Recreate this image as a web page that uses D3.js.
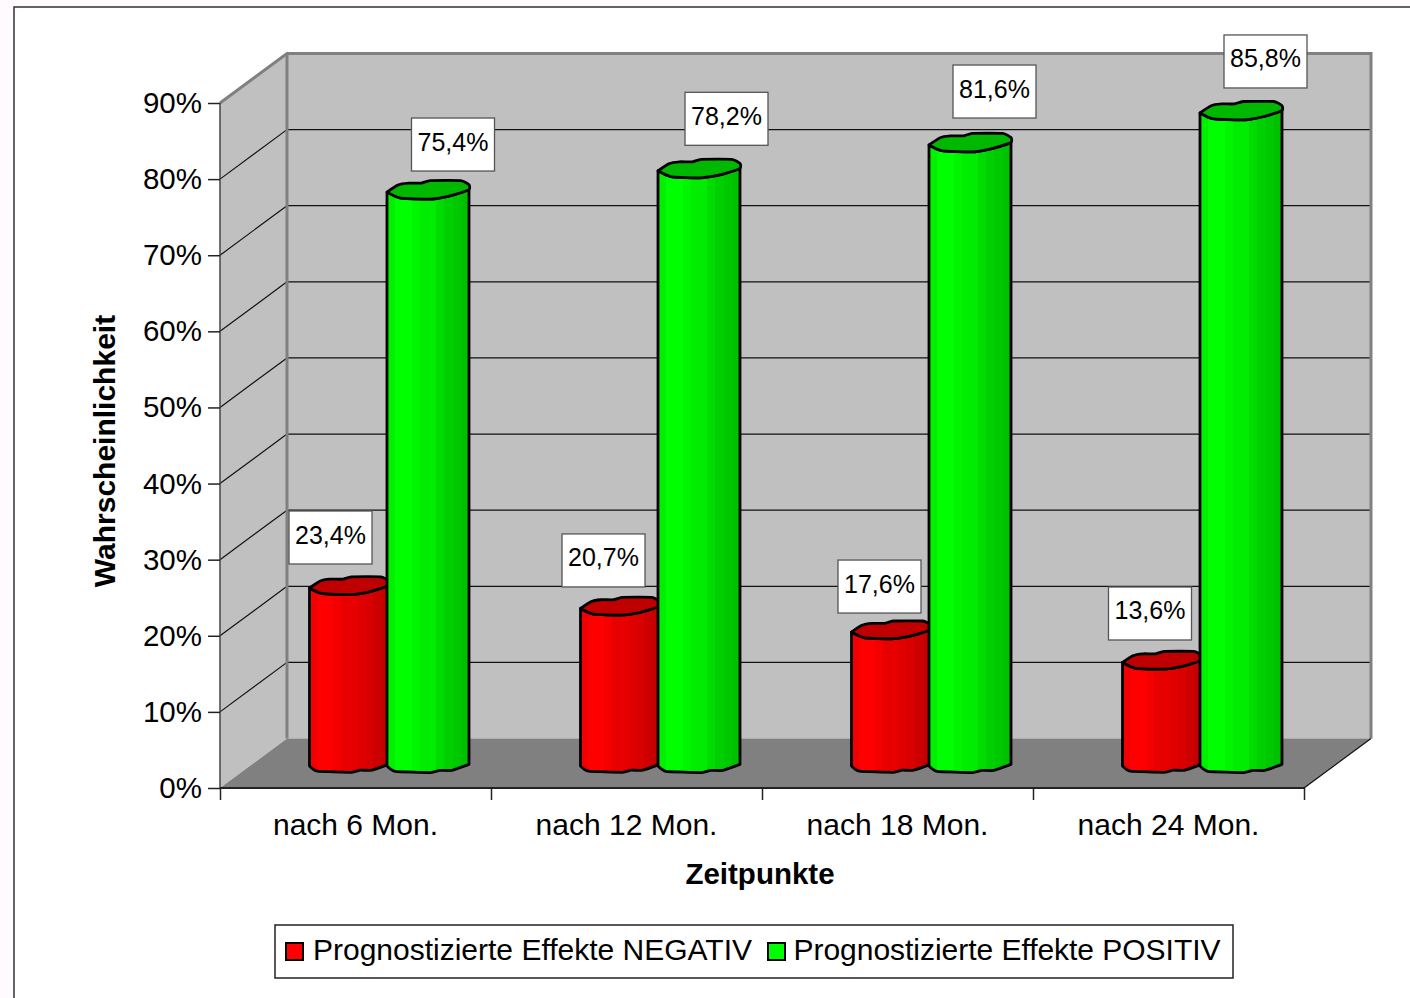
<!DOCTYPE html>
<html>
<head>
<meta charset="utf-8">
<script src="https://cdn.jsdelivr.net/npm/d3@7"></script>
<style>
  html, body { margin: 0; padding: 0; background: #fefafe; overflow: hidden; }
  text { font-family: "Liberation Sans", Arial, sans-serif; fill: #000; }
  .axis path { display: none; }
  .axis line { stroke: #222; stroke-width: 1.5; }
</style>
</head>
<body>
<div id="chart"></div>
<script>
// Data
var categories = ['nach 6 Mon.', 'nach 12 Mon.', 'nach 18 Mon.', 'nach 24 Mon.']
var negativ = [23.4, 20.7, 17.6, 13.6]
var positiv = [75.4, 78.2, 81.6, 85.8]
var yTicks = [0, 10, 20, 30, 40, 50, 60, 70, 80, 90]
var seriesNames = ['Prognostizierte Effekte NEGATIV', 'Prognostizierte Effekte POSITIV']

// the wobbly outline of the cylinders, as fractions of the bar width
var capUpper = [[0, 0], [.13, -.085], [.26, -.11], [.42, -.11], [.53, -.14], [.9, -.14], [1, -.09]]
var capLower = [[1, -.03], [.79, .04], [.62, .075], [.51, .085], [.154, .07], [0, 0]]
var baseEdge = [[0, 0], [.1, .066], [.53, .08], [.64, .053], [.79, .053], [1, -.02]]

// the labels sit a little unevenly in the original
var negNudge = [[-3.5, -2.4], [-1.5, 0], [3.5, 2.5], [3, -1]]
var posNudge = [[-.5, 4.4], [2, 0], [-1, -1.4], [-1, .5]]

var depth = {x: 67, y: -49.5}
var svg = d3.select('#chart').append('svg').attr('width', 1410).attr('height', 998)

var x = d3.scaleBand().domain(categories).range([220, 1304])
var xEdges = d3.scaleLinear().domain([0, 4]).range([220, 1304])
var y = d3.scaleLinear().domain([0, 90]).range([788, 103])

// chart area frame, runs off the page on the right and at the bottom
svg.append('rect').attr('x', 14).attr('y', 7).attr('width', 1500).attr('height', 1100)
  .attr('fill', '#fff').attr('stroke', '#333').attr('stroke-width', 1.5)

// gradients
var defs = svg.append('defs')
function gradient(id, shades){
  var g = defs.append('linearGradient').attr('id', id)
  shades.forEach(function(s, i){
    g.append('stop').attr('offset', i / shades.length).attr('stop-color', s)
    g.append('stop').attr('offset', (i + 1) / shades.length).attr('stop-color', s)
  })
}
gradient('red', ['#f00000', '#ff0000', '#ff0000', '#f40000', '#e80000', '#e80000', '#e00000', '#d80000', '#cc0000', '#c40000'])
gradient('green', ['#00f000', '#00ff00', '#00ff00', '#00f600', '#00ec00', '#00ec00', '#00dc00', '#00d000', '#00c800', '#00c000'])

// walls
var x0 = x.range()[0], x1 = x.range()[1], y0 = y(0), yTop = y(90)
svg.append('polygon')
  .attr('points', [[x0, y0], [x0 + depth.x, y0 + depth.y], [x0 + depth.x, yTop + depth.y], [x0, yTop]].join(' '))
  .attr('fill', '#c0c0c0')
svg.append('rect')
  .attr('x', x0 + depth.x).attr('y', yTop + depth.y)
  .attr('width', x1 - x0).attr('height', y0 - yTop)
  .attr('fill', '#c0c0c0')
svg.append('polygon')
  .attr('points', [[x0, y0], [x1, y0], [x1 + depth.x, y0 + depth.y], [x0 + depth.x, y0 + depth.y]].join(' '))
  .attr('fill', '#808080')

// gridlines
var grid = yTicks.filter(function(d){ return d > 0 && d < 90 })
svg.selectAll('line.back').data(grid).enter().append('line')
  .attr('x1', x0 + depth.x).attr('x2', x1 + depth.x)
  .attr('y1', function(d){ return y(d) + depth.y }).attr('y2', function(d){ return y(d) + depth.y })
  .attr('stroke', '#111').attr('stroke-width', 1.2)
svg.selectAll('line.side').data(grid).enter().append('line')
  .attr('x1', x0).attr('x2', x0 + depth.x)
  .attr('y1', function(d){ return y(d) }).attr('y2', function(d){ return y(d) + depth.y })
  .attr('stroke', '#111').attr('stroke-width', 1.2)

// wall borders
svg.append('path')
  .attr('d', 'M' + [x0, yTop] + 'L' + [x0 + depth.x, yTop + depth.y] + 'L' + [x1 + depth.x, yTop + depth.y] + 'L' + [x1 + depth.x, y0 + depth.y])
  .attr('fill', 'none').attr('stroke', '#808080').attr('stroke-width', 3)
svg.append('line')
  .attr('x1', x0 + depth.x).attr('x2', x0 + depth.x).attr('y1', yTop + depth.y).attr('y2', y0 + depth.y)
  .attr('stroke', '#808080').attr('stroke-width', 3)
svg.append('line')
  .attr('x1', x0).attr('x2', x0).attr('y1', yTop).attr('y2', y0)
  .attr('stroke', '#444').attr('stroke-width', 1.5)
svg.append('line')
  .attr('x1', x1).attr('x2', x1 + depth.x).attr('y1', y0).attr('y2', y0 + depth.y)
  .attr('stroke', '#111').attr('stroke-width', 1.2)
svg.append('line')
  .attr('x1', x0).attr('x2', x1).attr('y1', y0).attr('y2', y0)
  .attr('stroke', '#222').attr('stroke-width', 2)

// axes
var yAxis = d3.axisLeft(y).tickValues(yTicks).tickSize(12).tickPadding(6).tickFormat(function(d){ return d + '%' })
var gy = svg.append('g').attr('class', 'axis').attr('transform', 'translate(' + x0 + ',0)').call(yAxis)
gy.selectAll('text').attr('font-size', 29.5).attr('fill', '#000')

var xTicks = d3.axisBottom(xEdges).ticks(4).tickSize(12).tickFormat('')
svg.append('g').attr('class', 'axis').attr('transform', 'translate(0,' + y0 + ')').call(xTicks)

var xLabels = d3.axisBottom(x).tickSize(0).tickPadding(26)
var gx = svg.append('g').attr('class', 'axis').attr('transform', 'translate(0,' + y0 + ')').call(xLabels)
gx.selectAll('text').attr('font-size', 30).attr('fill', '#000')

svg.append('text').text('Zeitpunkte')
  .attr('x', 760).attr('y', 884).attr('text-anchor', 'middle')
  .attr('font-size', 29.5).attr('font-weight', 'bold')
svg.append('text').text('Wahrscheinlichkeit')
  .attr('transform', 'translate(115,451) rotate(-90)').attr('text-anchor', 'middle')
  .attr('font-size', 30).attr('font-weight', 'bold')

// bars
var outline = d3.line().curve(d3.curveCardinal.tension(.55))
var barLift = 22

function drawBar(cat, value, left, width, gradId, capColor){
  var bx = x(cat) + left
  var rim = y(value) - barLift
  var base = y(0) - barLift
  function at(points, yy){
    return points.map(function(p){ return [bx + p[0] * width, yy + p[1] * width] })
  }
  var g = svg.append('g')
    .attr('stroke', '#000').attr('stroke-width', 2.8).attr('stroke-linejoin', 'round')
  var lower = at(capLower, rim), bottom = at(baseEdge, base)
  g.append('path')
    .attr('d', outline(lower) + 'L' + bottom[0] + outline(bottom).replace(/^M[^C]*/, '') + 'L' + lower[0] + 'Z')
    .attr('fill', 'url(#' + gradId + ')')
  g.append('path')
    .attr('d', outline(at(capUpper, rim).concat(lower)) + 'Z')
    .attr('fill', capColor)
}

categories.forEach(function(c, i){
  drawBar(c, negativ[i], 89.5, 79, 'red', '#c00000')
})
categories.forEach(function(c, i){
  drawBar(c, positiv[i], 167, 82, 'green', '#00b800')
})

// data labels
function drawLabel(cat, value, centre, lift, nudge){
  var cx = x(cat) + centre + nudge[0]
  var cy = y(value) - 15 - lift + nudge[1]
  svg.append('rect')
    .attr('x', cx - 41.5).attr('y', cy - 26.5).attr('width', 83).attr('height', 53)
    .attr('fill', '#fff').attr('stroke', '#555').attr('stroke-width', 1.3)
  svg.append('text').text(String(value).replace('.', ',') + '%')
    .attr('x', cx).attr('y', cy + 6).attr('text-anchor', 'middle').attr('font-size', 25)
}
categories.forEach(function(c, i){
  drawLabel(c, negativ[i], 114, 55, negNudge[i])
  drawLabel(c, positiv[i], 233.5, 59, posNudge[i])
})

// legend
svg.append('rect').attr('x', 275).attr('y', 925).attr('width', 958).attr('height', 53)
  .attr('fill', '#fff').attr('stroke', '#222').attr('stroke-width', 1.5)
var legend = svg.selectAll('g.legend').data(seriesNames).enter().append('g')
  .attr('transform', function(d, i){ return 'translate(' + [286, 768][i] + ',0)' })
legend.append('rect').attr('y', 943).attr('width', 17).attr('height', 17)
  .attr('fill', function(d, i){ return ['#ff0000', '#00ff00'][i] })
  .attr('stroke', '#000').attr('stroke-width', 2)
legend.append('text').text(function(d){ return d })
  .attr('x', function(d, i){ return [27, 25.5][i] }).attr('y', 960).attr('font-size', 30)
  .attr('textLength', function(d, i){ return [439, 427][i] })
</script>
</body>
</html>
